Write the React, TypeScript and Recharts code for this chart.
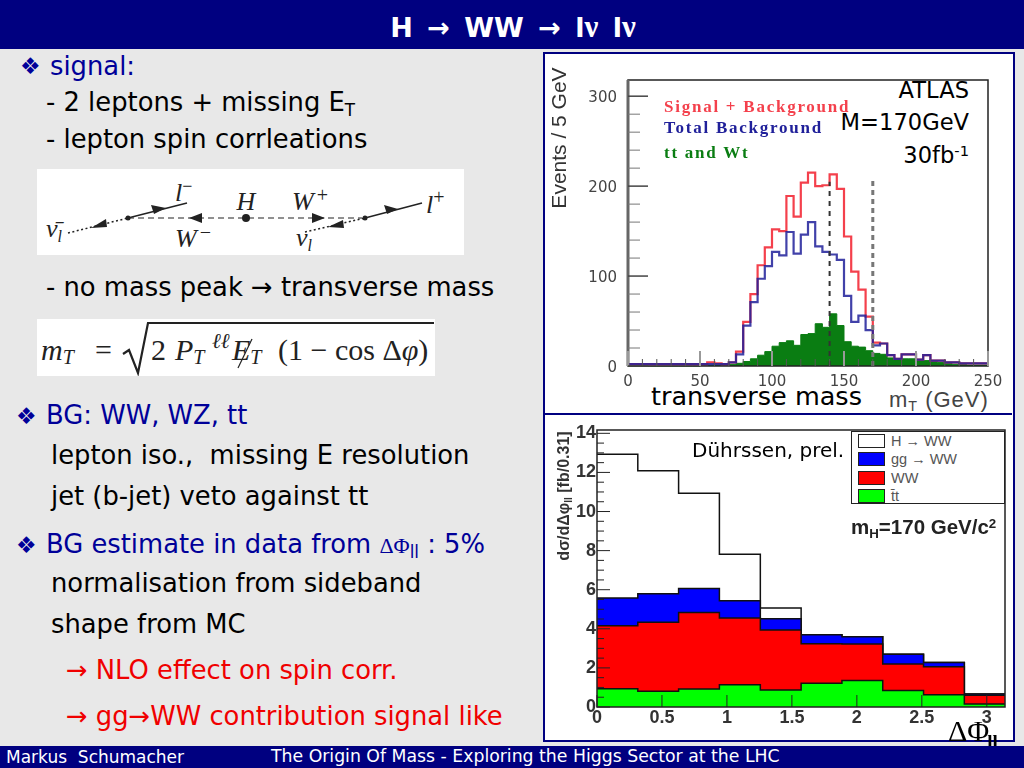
import React from 'react';
import { ComposedChart, Area, Line, XAxis, YAxis, ReferenceLine, ReferenceArea, Legend, Label } from 'recharts';

// transverse mass histogram, 5 GeV bins
const massEdges = [0, 5, 10, 15, 20, 25, 30, 35, 40, 45, 50, 55, 60, 65, 70, 75, 80, 85, 90, 95, 100, 105, 110, 115, 120, 125, 130, 135, 140, 145, 150, 155, 160, 165, 170, 175, 180, 185, 190, 195, 200, 205, 210, 215, 220, 225, 230, 235, 240, 245, 250];
const signalPlusBg = [2, 2, 2, 2, 2, 2, 2, 2, 2, 2, 2, 4, 3, 2, 4, 16, 49, 80, 112, 132, 152, 150, 189, 166, 204, 215, 200, 201, 213, 197, 144, 105, 85, 55, 26, 25, 12, 8, 13, 13, 7, 12, 6, 6, 4, 4, 3, 3, 3, 3];
const totalBg = [2, 2, 2, 2, 2, 2, 2, 2, 2, 2, 2, 2, 2, 2, 4, 13, 45, 71, 97, 111, 127, 123, 149, 125, 146, 160, 133, 127, 124, 118, 78, 49, 56, 40, 23, 25, 12, 8, 13, 13, 7, 12, 6, 6, 4, 4, 3, 3, 3, 3];
const ttAndWt = [0, 0, 0, 0, 0, 0, 0, 0, 0, 0, 1, 1, 1, 1, 2, 3, 5, 8, 12, 16, 22, 26, 28, 23, 35, 36, 47, 43, 58, 45, 27, 22, 21, 17, 14, 13, 9, 7, 8, 8, 7, 6, 5, 4, 3, 2, 2, 1, 1, 1];
const massXTicks = [0, 10, 20, 30, 40, 50, 60, 70, 80, 90, 100, 110, 120, 130, 140, 150, 160, 170, 180, 190, 200, 210, 220, 230, 240, 250];
const massYTicks = [0, 20, 40, 60, 80, 100, 120, 140, 160, 180, 200, 220, 240, 260, 280, 300];
const massLegend = [
  { name: 'Signal + Background', color: '#f4404c' },
  { name: 'Total Background', color: '#20209a' },
  { name: 'tt and Wt', color: '#0a7d12' },
];
const massLegendRows = [21, 25, 24];

// delta phi histogram, 10 bins of 0.314
const phiEdges = [0, 0.314, 0.628, 0.942, 1.257, 1.571, 1.885, 2.199, 2.513, 2.827, 3.14];
const hToWW = [12.93, 12.08, 10.94, 7.82, 5.06, 3.7, 3.6, 2.7, 2.28, 0.66];
const ggToWW = [5.57, 5.79, 6.06, 5.43, 4.51, 3.7, 3.6, 2.7, 2.28, 0.66];
const ww = [4.16, 4.34, 4.84, 4.55, 3.94, 3.24, 3.22, 2.2, 2.06, 0.6];
const ttbar = [0.94, 0.8, 0.92, 1.14, 0.87, 1.21, 1.36, 0.85, 0.63, 0.15];
const phiXTicks = [0, 0.5, 1, 1.5, 2, 2.5, 3];
const phiYTicks = [0, 0.5, 1, 1.5, 2, 2.5, 3, 3.5, 4, 4.5, 5, 5.5, 6, 6.5, 7, 7.5, 8, 8.5, 9, 9.5, 10, 10.5, 11, 11.5, 12, 12.5, 13, 13.5, 14];
const phiLegend = [
  { name: 'H \u2192 WW', color: '#ffffff' },
  { name: 'gg \u2192 WW', color: '#0000ff' },
  { name: 'WW', color: '#ff0000' },
  { name: 't\u0304t', color: '#00ff00' },
];

const massData = massEdges.map((x, i) => {
  const k = Math.min(i, signalPlusBg.length - 1);
  return { x, sig: signalPlusBg[k], bg: totalBg[k], tt: ttAndWt[k] };
});
const phiData = phiEdges.map((x, i) => {
  const k = Math.min(i, hToWW.length - 1);
  return { x, h: hToWW[k], gg: ggToWW[k], ww: ww[k], tt: ttbar[k] };
});

const SANS = '"DejaVu Sans", sans-serif';
const HELV = '"Liberation Sans", sans-serif';
const SERIF = '"Liberation Serif", serif';
const NAVY = '#000080';
const BLUE = '#000099';

const Txt = ({ x, y, size = 25.8, color = '#000', right, children, style }: any) => (
  <div
    style={{
      position: 'absolute',
      left: right === undefined ? x : undefined,
      right: right === undefined ? undefined : 1024 - right,
      top: y,
      transform: 'translateY(-50%)',
      whiteSpace: 'pre',
      fontFamily: SANS,
      fontSize: size,
      lineHeight: 1,
      color,
      ...style,
    }}
  >
    {children}
  </div>
);

const Sub = ({ children }: any) => <span style={{ fontSize: '0.65em', position: 'relative', top: '0.3em' }}>{children}</span>;
const Sup = ({ children }: any) => <span style={{ fontSize: '0.65em', position: 'relative', top: '-0.45em' }}>{children}</span>;

const MassXTick = ({ x, y, payload }: any) => {
  const major = payload.value % 50 === 0;
  return (
    <g>
      <line x1={x} x2={x} y1={y} y2={y - (major ? 15 : 7)} stroke={major ? '#999' : '#555'} strokeWidth={major ? 2 : 1} />
      {major && (
        <text x={x} y={y + 20} textAnchor="middle" fontFamily={SANS} fontSize={15} fill="#444">
          {payload.value}
        </text>
      )}
    </g>
  );
};

const MassYTick = ({ x, y, payload }: any) => {
  const major = payload.value % 100 === 0;
  return (
    <g>
      <line x1={x} x2={x + (major ? 20 : 12)} y1={y} y2={y} stroke={major ? '#444' : '#777'} strokeWidth={major ? 1.5 : 1} />
      {major && (
        <text x={x - 11} y={y + 6} textAnchor="end" fontFamily={SANS} fontSize={15} fill="#444">
          {payload.value}
        </text>
      )}
    </g>
  );
};

const PhiXTick = ({ x, y, payload }: any) => (
  <g>
    <line x1={x} x2={x} y1={y} y2={y - 12} stroke="#222" />
    <text x={x} y={y + 16} textAnchor="middle" fontFamily={HELV} fontWeight="bold" fontSize={18} fill="#333">
      {payload.value}
    </text>
  </g>
);

const PhiYTick = ({ x, y, payload }: any) => {
  const major = payload.value % 2 === 0;
  return (
    <g>
      <line x1={x} x2={x + (major ? 13 : 7)} y1={y} y2={y} stroke="#222" />
      {major && (
        <text x={x - 1} y={y + 5} textAnchor="end" fontFamily={HELV} fontWeight="bold" fontSize={18} fill="#333">
          {payload.value}
        </text>
      )}
    </g>
  );
};

const PhiYLabel = () => (
  <text transform="translate(25,81) rotate(-90)" textAnchor="middle" fontFamily={HELV} fontWeight="bold" fontSize={16} fill="#333">
    d{'\u03c3'}/d{'\u0394\u03c6'}
    <tspan fontSize={10} dy={3}>ll</tspan>
    <tspan dy={-3}> [fb/0.31]</tspan>
  </text>
);

const MassLegend = () => (
  <div style={{ fontFamily: SERIF, fontWeight: 'bold', fontSize: 17, lineHeight: '20px', letterSpacing: 1.75 }}>
    {massLegend.map((e, i) => (
      <div key={e.name} style={{ color: e.color, height: massLegendRows[i], whiteSpace: 'pre' }}>
        {e.name}
      </div>
    ))}
  </div>
);

const PhiLegend = () => (
  <div style={{ fontFamily: HELV, fontSize: 14.5, color: '#555' }}>
    {phiLegend.map((e) => (
      <div key={e.name} style={{ display: 'flex', alignItems: 'center', height: 18.3 }}>
        <span style={{ width: 25, height: 12, background: e.color, border: '1px solid #222', marginRight: 6, flex: 'none' }} />
        {e.name}
      </div>
    ))}
  </div>
);

const MassChart = () => (
  <ComposedChart width={468} height={358} data={massData} margin={{ top: 25, right: 24, bottom: 17, left: 24 }}>
    <XAxis
      dataKey="x"
      type="number"
      domain={[0, 250]}
      ticks={massXTicks}
      interval={0}
      height={30}
      tick={<MassXTick />}
      tickLine={false}
      tickSize={0}
      tickMargin={0}
      axisLine={false}
    />
    <YAxis
      type="number"
      domain={[0, 318]}
      ticks={massYTicks}
      interval={0}
      width={60}
      tick={<MassYTick />}
      tickLine={false}
      tickSize={0}
      tickMargin={0}
      axisLine={{ stroke: '#666', strokeWidth: 3 }}
    >
      <Label
        value="Events / 5 GeV"
        angle={-90}
        position="insideLeft"
        offset={-9}
        dy={-85}
        style={{ fontFamily: HELV, fontSize: 21, fill: '#333', textAnchor: 'middle' }}
      />
    </YAxis>
    <Area dataKey="tt" name="tt and Wt" type="stepAfter" stroke="#0a7d12" fill="#0a7d12" fillOpacity={1} isAnimationActive={false} />
    <Line dataKey="sig" name="Signal + Background" type="stepAfter" stroke={massLegend[0].color} strokeWidth={2.2} dot={false} isAnimationActive={false} />
    <Line dataKey="bg" name="Total Background" type="stepAfter" stroke={massLegend[1].color} strokeOpacity={0.85} strokeWidth={2.2} dot={false} isAnimationActive={false} />
    <ReferenceLine segment={[{ x: 140, y: 0 }, { x: 140, y: 205 }]} stroke="#333" strokeWidth={2} strokeDasharray="5 5" />
    <ReferenceLine segment={[{ x: 170, y: 0 }, { x: 170, y: 209 }]} stroke="#777" strokeWidth={3} strokeDasharray="5 4" />
    <ReferenceArea x1={0} x2={250} y1={0} y2={318} fill="none" stroke="#222" strokeWidth={1.5} />
    <Legend
      layout="vertical"
      align="center"
      verticalAlign="middle"
      content={<MassLegend />}
      wrapperStyle={{ left: 120, top: 42, width: 240 }}
    />
  </ComposedChart>
);

const PhiChart = () => (
  <ComposedChart width={468} height={325} data={phiData} margin={{ top: 15, right: 7, bottom: 3, left: 13 }}>
    <XAxis
      dataKey="x"
      type="number"
      domain={[0, 3.14]}
      ticks={phiXTicks}
      interval={0}
      height={30}
      tick={<PhiXTick />}
      tickLine={false}
      tickSize={0}
      tickMargin={0}
      axisLine={false}
    />
    <YAxis
      type="number"
      domain={[0, 14.17]}
      ticks={phiYTicks}
      interval={0}
      width={40}
      tick={<PhiYTick />}
      tickLine={false}
      tickSize={0}
      tickMargin={0}
      axisLine={false}
    >
      <Label content={<PhiYLabel />} />
    </YAxis>
    <Area dataKey="h" name="H to WW" type="stepAfter" stroke="#111" strokeWidth={1.5} fill="#fff" fillOpacity={1} isAnimationActive={false} />
    <Area dataKey="gg" name="gg to WW" type="stepAfter" stroke="#111" strokeWidth={1.5} fill="#0000ff" fillOpacity={1} isAnimationActive={false} />
    <Area dataKey="ww" name="WW" type="stepAfter" stroke="#111" strokeWidth={1.5} fill="#ff0000" fillOpacity={1} isAnimationActive={false} />
    <Area dataKey="tt" name="tt" type="stepAfter" stroke="#111" strokeWidth={1.5} fill="#00ff00" fillOpacity={1} isAnimationActive={false} />
    <ReferenceArea x1={0} x2={3.14} y1={0} y2={14.17} fill="none" stroke="#222" strokeWidth={1.5} />
    <Legend
      layout="vertical"
      align="center"
      verticalAlign="middle"
      content={<PhiLegend />}
      wrapperStyle={{ left: 307, top: 16, width: 154, height: 73, boxSizing: 'border-box', padding: '0 0 0 6px', border: '1.5px solid #222', background: '#fff' }}
    />
  </ComposedChart>
);

// feynman diagram and formula boxes on the left
const Diagram = () => (
  <svg width={427} height={86} style={{ position: 'absolute', left: 37, top: 169, background: '#fff' }} fontFamily={SERIF} fontStyle="italic" fontSize={26} fill="#222">
    <line x1={31} y1={64} x2={91} y2={49} stroke="#222" strokeWidth={1.5} strokeDasharray="2 2.5" />
    <line x1={91} y1={49} x2={150} y2={34} stroke="#222" strokeWidth={1.5} />
    <line x1={91} y1={49} x2={325} y2={49} stroke="#222" strokeWidth={1.2} strokeDasharray="6 4" />
    <line x1={328} y1={49} x2={385} y2={34} stroke="#222" strokeWidth={1.5} />
    <line x1={268} y1={63} x2={328} y2={49} stroke="#222" strokeWidth={1.5} strokeDasharray="2 2.5" />
    <circle cx={91} cy={49} r={2.5} />
    <circle cx={328} cy={49} r={2.5} />
    <circle cx={209} cy={49} r={4} />
    <polygon points="54,59 69,50 70,58" />
    <polygon points="129,39 114,36 117,45" />
    <polygon points="152,49 165,44 165,54" />
    <polygon points="275,44 275,54 288,49" />
    <polygon points="361,40 347,36 350,45" />
    <polygon points="291,58 306,51 307,59" />
    <text x={138} y={32}>l<tspan fontSize={18} dy={-9} fontStyle="normal">{'\u2212'}</tspan></text>
    <text x={209} y={41} textAnchor="middle">H</text>
    <text x={255} y={41}>W<tspan fontSize={20} dx={3} dy={-8} fontStyle="normal">+</tspan></text>
    <text x={138} y={78}>W<tspan fontSize={20} dx={3} dy={-8} fontStyle="normal">{'\u2212'}</tspan></text>
    <text x={259} y={77}>{'\u03bd'}<tspan fontSize={16} dy={5}>l</tspan></text>
    <text x={9} y={68}>{'\u03bd\u0304'}<tspan fontSize={16} dy={5}>l</tspan></text>
    <text x={389} y={44}>l<tspan fontSize={20} dy={-9} fontStyle="normal">+</tspan></text>
  </svg>
);

const Formula = () => (
  <svg width={398} height={57} style={{ position: 'absolute', left: 37, top: 319, background: '#fff' }} fontFamily={SERIF} fontSize={30} fill="#222">
    <polyline points="86,35 92,31 101,54 111,4 397,4" fill="none" stroke="#222" strokeWidth={2.2} />
    <text x={4} y={41} fontStyle="italic">m<tspan fontSize={20} dy={4}>T</tspan></text>
    <text x={58} y={41}>=</text>
    <text x={114} y={41}>2</text>
    <text x={138} y={41} fontStyle="italic">P<tspan fontSize={20} dy={4}>T</tspan></text>
    <text x={175} y={29} fontStyle="italic" fontSize={21}>{'\u2113\u2113'}</text>
    <text x={195} y={41} fontStyle="italic">E<tspan fontSize={20} dy={4}>T</tspan></text>
    <line x1={201} y1={49} x2={215} y2={20} stroke="#222" strokeWidth={1.2} />
    <text x={241} y={41}>(1 {'\u2212'} cos {'\u0394'}<tspan fontStyle="italic">{'\u03c6'}</tspan>)</text>
  </svg>
);

export default function App() {
  return (
    <div style={{ position: 'absolute', left: 0, top: 0, width: 1024, height: 768, overflow: 'hidden', background: '#e8e8e8', fontFamily: SANS }}>
      {/* header */}
      <div style={{ position: 'absolute', left: 0, top: 0, width: 1024, height: 49, background: NAVY }} />
      <div style={{ position: 'absolute', left: 0, top: 8, width: 1026, textAlign: 'center', color: '#fff', fontWeight: 'bold', fontSize: 27, lineHeight: 1.2, whiteSpace: 'pre', wordSpacing: 5 }}>
        H {'\u2192'} WW {'\u2192'} l<span style={{ fontFamily: SERIF, fontSize: 31 }}>{'\u03bd'}</span> l<span style={{ fontFamily: SERIF, fontSize: 31 }}>{'\u03bd'}</span>
      </div>

      {/* left text */}
      <Txt x={20} y={66} size={23} color={BLUE}>{'\u2756'}</Txt>
      <Txt x={50} y={67} color={BLUE}>signal:</Txt>
      <Txt x={46} y={103}>- 2 leptons + missing E<Sub>T</Sub></Txt>
      <Txt x={46} y={140}>- lepton spin corrleations</Txt>
      <Diagram />
      <Txt x={46} y={288}>- no mass peak {'\u2192'} transverse mass</Txt>
      <Formula />
      <Txt x={16} y={416} size={23} color={BLUE}>{'\u2756'}</Txt>
      <Txt x={46} y={416} color={BLUE}>BG: WW, WZ, tt</Txt>
      <Txt x={51} y={456}>lepton iso.,  missing E resolution</Txt>
      <Txt x={51} y={497}>jet (b-jet) veto against tt</Txt>
      <Txt x={16} y={545} size={23} color={BLUE}>{'\u2756'}</Txt>
      <Txt x={46} y={545} color={BLUE}>BG estimate in data from <span style={{ fontFamily: SERIF, fontSize: 22 }}>{'\u0394\u03a6'}</span><Sub>ll</Sub> : 5%</Txt>
      <Txt x={51} y={584}>normalisation from sideband</Txt>
      <Txt x={51} y={625}>shape from MC</Txt>
      <Txt x={66} y={671} color="#f00000">{'\u2192'} NLO effect on spin corr.</Txt>
      <Txt x={66} y={717} color="#f00000">{'\u2192'} gg{'\u2192'}WW contribution signal like</Txt>

      {/* right panel */}
      <div style={{ position: 'absolute', left: 543, top: 52, width: 468, height: 686, background: '#fff', border: `2px solid ${NAVY}` }} />
      <div style={{ position: 'absolute', left: 544, top: 413, width: 468, height: 2, background: NAVY }} />
      <div style={{ position: 'absolute', left: 544, top: 55, filter: 'blur(0.4px)' }}>
        <MassChart />
      </div>
      <div style={{ position: 'absolute', left: 544, top: 415, filter: 'blur(0.3px)' }}>
        <PhiChart />
      </div>

      <Txt right={969} y={90} size={22.6}>ATLAS</Txt>
      <Txt right={969} y={122} size={22.6}>M=170GeV</Txt>
      <Txt right={969} y={155} size={22.6}>30fb<Sup>-1</Sup></Txt>
      <Txt x={651} y={397} size={25.5}>transverse mass</Txt>
      <Txt x={889} y={400} size={22} color="#444" style={{ fontFamily: HELV, letterSpacing: 1 }}>m<Sub>T</Sub> (GeV)</Txt>

      <Txt x={692} y={450} size={20}>D{'\u00fc'}hrssen, prel.</Txt>
      <Txt x={851} y={527} size={20.5} color="#222" style={{ fontFamily: HELV, fontWeight: 'bold' }}>m<Sub>H</Sub>=170 GeV/c<Sup>2</Sup></Txt>
      <Txt x={948} y={731} size={30} style={{ fontFamily: SERIF }}>{'\u0394\u03a6'}<span style={{ fontSize: 19, fontWeight: 'bold', position: 'relative', top: 7, left: -2 }}>ll</span></Txt>

      {/* footer */}
      <div style={{ position: 'absolute', left: 0, top: 746, width: 1024, height: 22, background: NAVY }} />
      <Txt x={6} y={757} size={17} color="#fff">Markus  Schumacher</Txt>
      <Txt x={271} y={757} size={17.3} color="#fff">The Origin Of Mass - Exploring the Higgs Sector at the LHC</Txt>
    </div>
  );
}
